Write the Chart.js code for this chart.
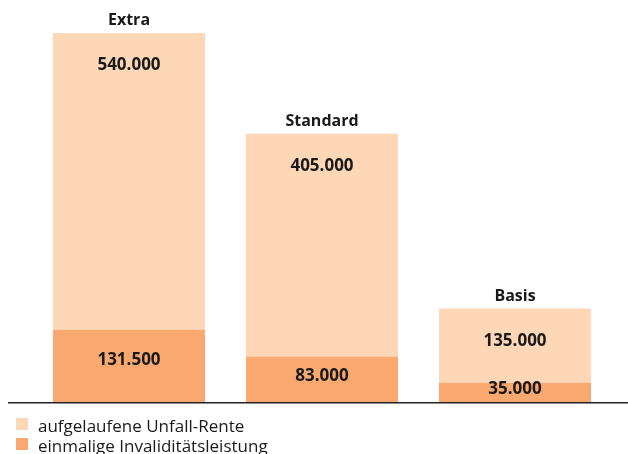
<!DOCTYPE html>
<html>
<head>
<meta charset="utf-8">
<script src="https://cdn.jsdelivr.net/npm/chart.js@4"></script>
<style>
html,body{margin:0;padding:0;background:#fff;}
#wrap{width:628px;height:454px;position:relative;}
</style>
</head>
<body>
<div id="wrap"><canvas id="c" width="628" height="454"></canvas></div>
<script>
const categories = ['Extra', 'Standard', 'Basis'];
const einmalig = [131500, 83000, 35000];
const rente = [540000, 405000, 135000];
const seriesNames = ['einmalige Invaliditätsleistung', 'aufgelaufene Unfall-Rente'];
const colors = ['#F9A96F', '#FDD7B6'];

const fmt = v => v.toLocaleString('de-DE');
const FONT = '"Open Sans", "Noto Sans", sans-serif';

const labelPlugin = {
  id: 'labels',
  afterDatasetsDraw(chart) {
    const ctx = chart.ctx;
    ctx.save();
    ctx.fillStyle = '#1a1a1a';
    ctx.textAlign = 'center';
    ctx.textBaseline = 'alphabetic';
    const m0 = chart.getDatasetMeta(0).data;
    const m1 = chart.getDatasetMeta(1).data;
    m1.forEach((bar, i) => {
      ctx.font = 'bold 16px ' + FONT;
      ctx.fillText(categories[i], bar.x, bar.y - 8);
      ctx.font = 'bold 17px ' + FONT;
      ctx.fillText(fmt(rente[i]), bar.x, bar.y + 37);
    });
    m0.forEach((bar, i) => {
      const mid = (bar.y + bar.base) / 2;
      ctx.font = 'bold 17px ' + FONT;
      ctx.fillText(fmt(einmalig[i]), bar.x, Math.min(mid + 2, bar.y + 35));
    });
    // baseline
    const ca = chart.chartArea;
    ctx.strokeStyle = '#222';
    ctx.lineWidth = 1.6;
    ctx.beginPath();
    ctx.moveTo(8, ca.bottom + 0.8);
    ctx.lineTo(chart.width, ca.bottom + 0.8);
    ctx.stroke();
    // legend
    const items = [[seriesNames[1], colors[1]], [seriesNames[0], colors[0]]];
    ctx.textAlign = 'left';
    ctx.font = '17px ' + FONT;
    items.forEach((it, k) => {
      const base = 432 + k * 20;
      ctx.fillStyle = it[1];
      ctx.fillRect(16, base - 14, 12, 12);
      ctx.fillStyle = '#1a1a1a';
      ctx.fillText(it[0], 38, base);
    });
    ctx.restore();
  }
};

new Chart(document.getElementById('c'), {
  type: 'bar',
  data: {
    labels: categories,
    datasets: [
      { label: seriesNames[0], data: einmalig, backgroundColor: colors[0] },
      { label: seriesNames[1], data: rente, backgroundColor: colors[1] }
    ]
  },
  options: {
    responsive: false,
    animation: false,
    datasets: { bar: { categoryPercentage: 1, barPercentage: 0.7876 } },
    layout: { padding: { left: 32.5, right: 16.5, top: 33, bottom: 52 } },
    scales: {
      x: { stacked: true, display: false },
      y: { stacked: true, display: false, min: 0, max: 671500 }
    },
    plugins: { legend: { display: false }, tooltip: { enabled: false } }
  },
  plugins: [labelPlugin]
});
</script>
</body>
</html>
